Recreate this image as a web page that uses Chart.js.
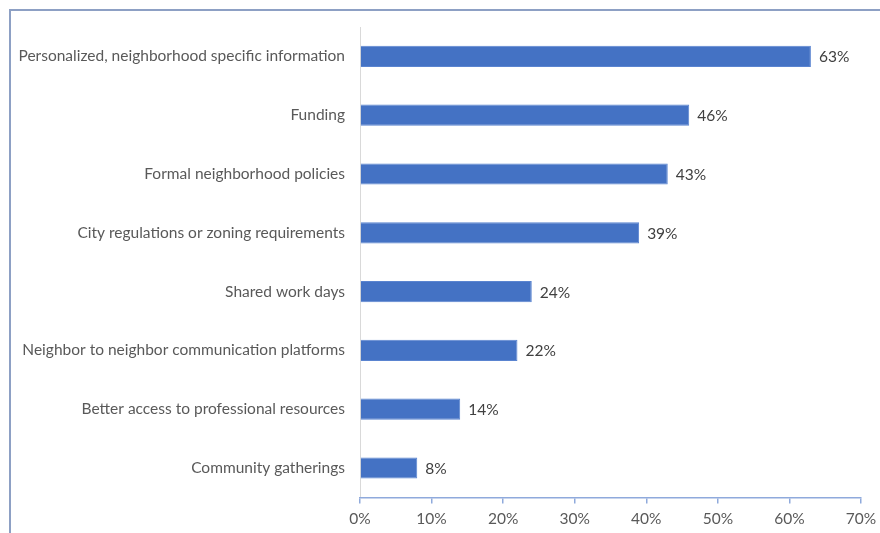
<!DOCTYPE html>
<html>
<head>
<meta charset="utf-8">
<script src="https://cdn.jsdelivr.net/npm/chart.js@4/dist/chart.umd.min.js"></script>
<style>
  body { margin: 0; background: #fff; overflow: hidden; }
  #frame {
    position: absolute; left: 9px; top: 9px; width: 900px; height: 600px;
    border-top: 2px solid #8da0c4; border-left: 2px solid #8da0c4;
  }
  #wrap { position: absolute; left: 0; top: 0; width: 880px; height: 536px; }
</style>
</head>
<body>
<div id="frame"></div>
<div id="wrap"><canvas id="chart"></canvas></div>
<script>
const categories = [
  "Personalized, neighborhood specific information",
  "Funding",
  "Formal neighborhood policies",
  "City regulations or zoning requirements",
  "Shared work days",
  "Neighbor to neighbor communication platforms",
  "Better access to professional resources",
  "Community gatherings",
];
const shares = [63, 46, 43, 39, 24, 22, 14, 8];
const xTicks = [0, 10, 20, 30, 40, 50, 60, 70];

const FONT = "Lato, 'Open Sans', sans-serif";

// write the percentage just past the end of each bar
const valueLabels = {
  id: "valueLabels",
  afterDatasetsDraw(chart) {
    const { ctx } = chart;
    const meta = chart.getDatasetMeta(0);
    ctx.save();
    ctx.font = "15.5px " + FONT;
    ctx.fillStyle = "#404040";
    ctx.textAlign = "left";
    ctx.textBaseline = "middle";
    meta.data.forEach((bar, i) => {
      ctx.fillText(shares[i] + "%", bar.x + 8, bar.y + 1);
    });
    ctx.restore();
  },
};

new Chart(document.getElementById("chart").getContext("2d"), {
  type: "bar",
  data: {
    labels: categories,
    datasets: [
      {
        data: shares,
        backgroundColor: "#4472C4",
        borderColor: "#5a84d0",
        borderWidth: 1,
        categoryPercentage: 1,
        barPercentage: 0.36,
      },
    ],
  },
  options: {
    indexAxis: "y",
    responsive: true,
    maintainAspectRatio: false,
    animation: false,
    layout: { padding: { left: 10, right: 19, top: 27, bottom: 2 } },
    plugins: {
      legend: { display: false },
      tooltip: { enabled: false },
    },
    scales: {
      y: {
        afterFit: (scale) => { scale.width = 350; },
        border: { color: "#d9d9d9", width: 1 },
        grid: { drawOnChartArea: false, drawTicks: false },
        ticks: { color: "#595959", font: { family: FONT, size: 15.5 }, padding: 15 },
      },
      x: {
        min: 0,
        max: 70,
        afterBuildTicks: (scale) => { scale.ticks = xTicks.map((v) => ({ value: v })); },
        // let the 70% label hang into the right padding
        afterFit: (scale) => { scale.paddingRight = 0; scale.paddingLeft = 0; },
        border: { color: "#8faadc", width: 1.5 },
        grid: { drawOnChartArea: false, tickLength: 6, color: "#8faadc", lineWidth: 1.5 },
        ticks: {
          color: "#595959",
          font: { family: FONT, size: 15.5 },
          padding: 6,
          callback: (v) => v + "%",
        },
      },
    },
  },
  plugins: [valueLabels],
});
</script>
</body>
</html>
